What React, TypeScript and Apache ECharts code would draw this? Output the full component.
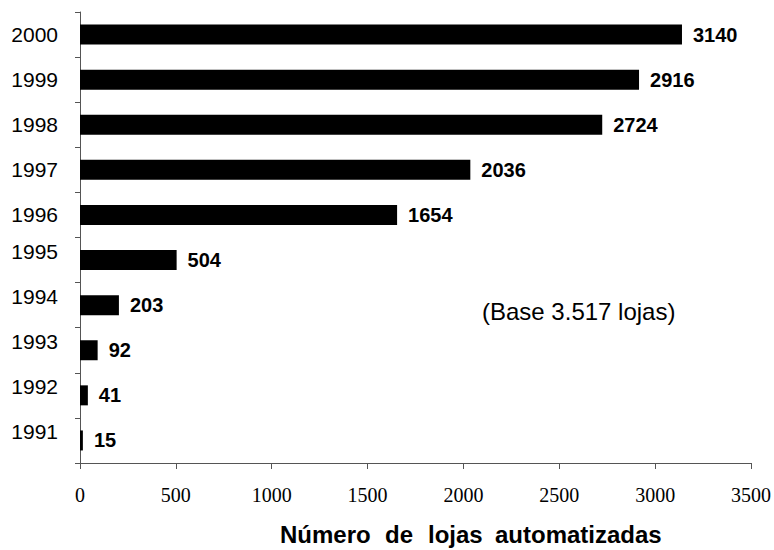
import React, { useEffect, useRef } from "react";
import * as echarts from "echarts";

const years = ["1991", "1992", "1993", "1994", "1995", "1996", "1997", "1998", "1999", "2000"];
const stores = [15, 41, 92, 203, 504, 1654, 2036, 2724, 2916, 3140];
const xTicks = [0, 500, 1000, 1500, 2000, 2500, 3000, 3500];
const titleWords = ["Número", "de", "lojas", "automatizadas"];
const titleWordX = [280, 385, 428, 495];
const note = "(Base 3.517 lojas)";

const SANS = "'Liberation Sans', Arial, Helvetica, sans-serif";
const SERIF = "'Liberation Serif', 'Times New Roman', serif";

export default function App() {
  const ref = useRef<HTMLDivElement>(null);
  useEffect(() => {
    if (!ref.current) return;
    const chart = echarts.init(ref.current, null, { renderer: "svg" });
    chart.setOption({
      animation: false,
      backgroundColor: "#ffffff",
      grid: { left: 80, right: 19, top: 12, bottom: 87, containLabel: false },
      xAxis: {
        type: "value",
        min: xTicks[0],
        max: xTicks[xTicks.length - 1],
        interval: 500,
        splitLine: { show: false },
        axisLine: { show: true, lineStyle: { color: "#555", width: 1 } },
        axisTick: { show: true, length: 6, lineStyle: { color: "#555" } },
        axisLabel: {
          margin: 22,
          fontFamily: SERIF,
          fontSize: 20,
          color: "#000",
          formatter: (v: number) => String(v),
        },
      },
      yAxis: {
        type: "category",
        data: years,
        axisLine: { show: true, lineStyle: { color: "#555", width: 1 } },
        axisTick: { show: true, length: 5, alignWithLabel: false, lineStyle: { color: "#555" } },
        axisLabel: {
          margin: 22,
          color: "#000",
          fontFamily: SANS,
          fontSize: 21,
          formatter: (v: string) => (Number(v) >= 1996 ? `{u|${v}}` : `{d|${v}}`),
          rich: {
            u: { fontFamily: SANS, fontSize: 21, color: "#000" },
            d: { fontFamily: SANS, fontSize: 21, color: "#000", padding: [0, 0, 18, 0] },
          },
        },
      },
      series: [
        {
          type: "bar",
          data: stores,
          barWidth: 20,
          itemStyle: { color: "#000" },
          label: {
            show: true,
            position: "right",
            distance: 11,
            fontFamily: SANS,
            fontSize: 20,
            fontWeight: "bold",
            color: "#000",
          },
        },
      ],
      graphic: [
        {
          type: "text",
          left: 482,
          top: 299,
          style: { text: note, font: `24px ${SANS}`, fill: "#000" },
        },
        ...titleWords.map((w, i) => ({
          type: "text",
          left: titleWordX[i],
          top: 522,
          style: { text: w, font: `bold 24px ${SANS}`, fill: "#000" },
        })),
      ],
    });
    return () => chart.dispose();
  }, []);
  return <div ref={ref} style={{ width: 774, height: 550, position: "absolute", left: 0, top: 0 }} />;
}
